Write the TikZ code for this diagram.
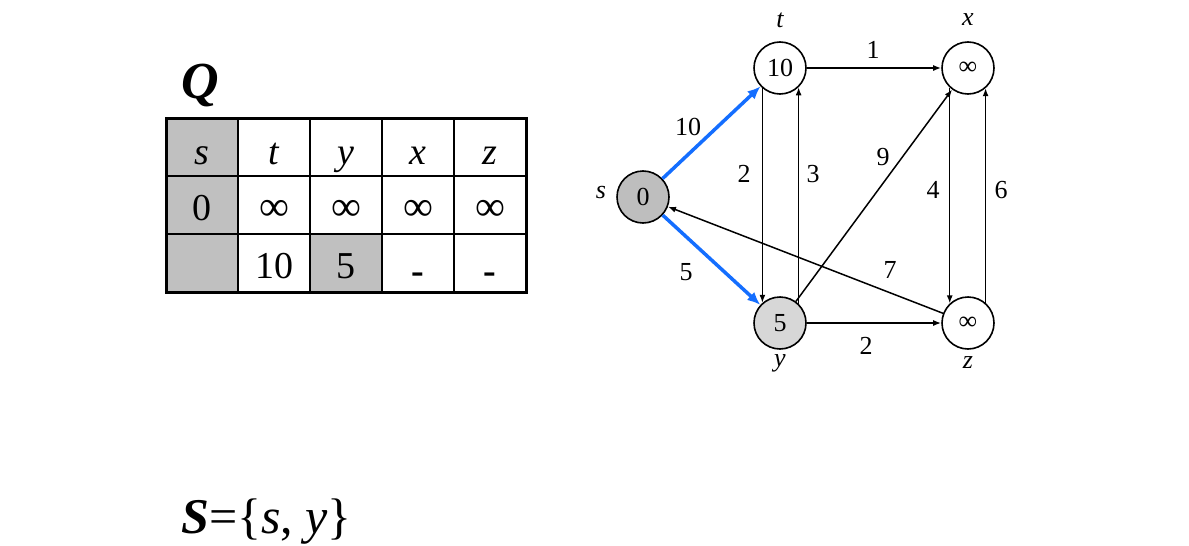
\documentclass[tikz,border=0pt]{standalone}
\usepackage{fontspec}
\setmainfont{Liberation Serif}
\usetikzlibrary{arrows.meta}
\definecolor{cellgray}{RGB}{192,192,192}
\definecolor{sgray}{RGB}{190,190,190}
\definecolor{ygray}{RGB}{215,215,215}
\definecolor{eblue}{RGB}{20,110,255}
\tikzset{
  vert/.style={circle,draw=black,line width=1.6pt,minimum size=52pt,inner sep=0pt,font=\fontsize{26}{26}\selectfont},
  edge/.style={line width=1.5pt,-{Latex[length=8pt,width=6pt]}},
  bedge/.style={line width=3.5pt,eblue,-{Latex[length=13pt,width=11pt]}},
  elab/.style={font=\fontsize{26}{26}\selectfont,inner sep=0pt},
  vlab/.style={font=\fontsize{26}{26}\selectfont\itshape,inner sep=0pt},
  tcell/.style={font=\fontsize{38}{38}\selectfont,inner sep=0pt,anchor=base},
  thead/.style={font=\fontsize{38}{38}\selectfont\itshape,inner sep=0pt,anchor=base},
  tinf/.style={font=\fontsize{42}{42}\selectfont,inner sep=0pt,anchor=base},
  ninf/.style={font=\fontsize{26}{26}\selectfont}
}
\begin{document}
\begin{tikzpicture}[x=1pt,y=-1pt]
\useasboundingbox (0,0) rectangle (1189,546);
\fill[white] (0,0) rectangle (1189,546);
% title Q
\node[font=\fontsize{52}{52}\selectfont\bfseries\itshape,inner sep=0pt] (Q) at (200,85) {Q};
% table fills
\fill[cellgray] (166,118) rectangle (238,292);
\fill[cellgray] (310,234) rectangle (382,292);
% grid
\foreach \xx in {238,310,382,454} \draw[line width=1.3pt] (\xx,118) -- (\xx,292);
\foreach \yy in {176,234} \draw[line width=1.3pt] (166,\yy) -- (526,\yy);
\draw[line width=3pt] (166,118) rectangle (526,292);
% table text
\node[thead] (hs) at (202,164) {s};
\node[thead] (ht) at (274,164) {t};
\node[thead] (hy) at (346,164) {y};
\node[thead] (hx) at (418,164) {x};
\node[thead] (hz) at (490,164) {z};
\node[tcell] (r0) at (202,220) {0};
\node[tinf] (r1) at (274,220) {∞};
\node[tinf] (r2) at (346,220) {∞};
\node[tinf] (r3) at (418,220) {∞};
\node[tinf] (r4) at (490,220) {∞};
\node[tcell] (q1) at (274,278) {10};
\node[tcell] (q2) at (346,278) {5};
\node[tcell,font=\fontsize{38}{38}\selectfont\bfseries] (q3) at (418,283) {-};
\node[tcell,font=\fontsize{38}{38}\selectfont\bfseries] (q4) at (490,283) {-};
% S set
\node[anchor=base west,inner sep=0pt,font=\fontsize{50}{50}\selectfont] (S) at (181,533) {\textbf{\textit{S}}=\{\textit{s}, \textit{y}\}};
% graph nodes
\node[vert,fill=sgray] (s) at (643,197) {0};
\node[vert,fill=white] (t) at (780,68) {10};
\node[vert,fill=white] (x) at (968,68) {\fontsize{26}{26}\selectfont ∞};
\node[vert,fill=ygray] (y) at (780,323) {5};
\node[vert,fill=white] (z) at (968,323) {\fontsize{26}{26}\selectfont ∞};
% vertex names
\node[vlab] (ls) at (601,192) {s};
\node[vlab] (lt) at (780,20) {t};
\node[vlab] (lx) at (968,20) {x};
\node[vlab] (ly) at (780,363) {y};
\node[vlab] (lz) at (968,363) {z};
% edges
\draw[edge] (t) -- (x);
\draw[edge] (t.229) -- (y.131);
\draw[edge] (y.46) -- (t.314);
\draw[edge] (x.227) -- (z.133);
\draw[edge] (z.49) -- (x.311);
\draw[edge] (y) -- (x);
\draw[edge] (z) -- (s);
\draw[edge] (y) -- (z);
\draw[bedge] (s) -- (t);
\draw[bedge] (s) -- (y);
% edge labels
\node[elab] (w1) at (873,50) {1};
\node[elab] (w2) at (744,174) {2};
\node[elab] (w3) at (813,174) {3};
\node[elab] (w9) at (883,157) {9};
\node[elab] (w4) at (933,190) {4};
\node[elab] (w6) at (1001,190) {6};
\node[elab] (w7) at (890,270) {7};
\node[elab] (w2b) at (866,346) {2};
\node[elab] (w10) at (688,127) {10};
\node[elab] (w5) at (686,272) {5};
\end{tikzpicture}
\end{document}
